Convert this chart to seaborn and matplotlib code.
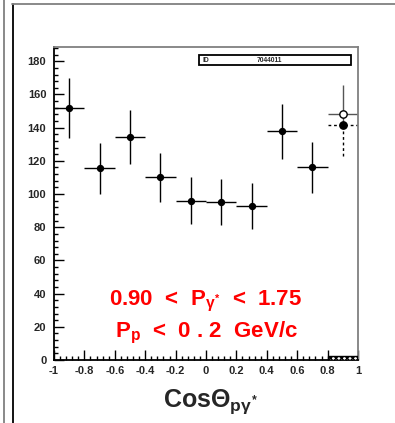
import numpy as np
import matplotlib
matplotlib.use("Agg")
import matplotlib.pyplot as plt
from matplotlib.lines import Line2D
from matplotlib.patches import Rectangle
from matplotlib.ticker import MultipleLocator
import seaborn as sns
import pandas as pd

# ---- data ----
bin_centers = [-0.9, -0.7, -0.5, -0.3, -0.1, 0.1, 0.3, 0.5, 0.7]
counts = [151.8, 115.6, 134.2, 110.0, 96.1, 95.2, 92.9, 137.8, 116.1]
errors = [18.0, 15.4, 16.4, 14.8, 14.1, 14.0, 13.9, 16.5, 15.5]
last_center = [0.9]
last_open = [148.1]
last_open_up = [17.4]
last_filled = [141.3]
last_filled_down = [18.6]
hatch_center = [0.9]
hatch_height = [2.6]
xticks = [-1, -0.8, -0.6, -0.4, -0.2, 0, 0.2, 0.4, 0.6, 0.8, 1]
xtick_labels = ["-1", "-0.8", "-0.6", "-0.4", "-0.2", "0", "0.2", "0.4", "0.6", "0.8", "1"]
yticks = [0, 20, 40, 60, 80, 100, 120, 140, 160, 180]

sns.set_theme(style="ticks")
plt.rcParams["font.family"] = ["Liberation Sans", "DejaVu Sans"]
plt.rcParams["font.weight"] = "bold"
plt.rcParams["mathtext.fontset"] = "custom"
plt.rcParams["mathtext.rm"] = "Liberation Sans:bold"
plt.rcParams["mathtext.it"] = "Liberation Sans:bold"
plt.rcParams["mathtext.bf"] = "Liberation Sans:bold"

W, H = 395, 423
fig = plt.figure(figsize=(W / 100, H / 100), dpi=100)
ax = fig.add_axes([54 / W, 1 - 360 / H, (358 - 54) / W, (360 - 47) / H])

# frame decorations
fig.add_artist(Line2D([3.5 / W, 3.5 / W], [0, 1], color="#808080", lw=1.3))
fig.add_artist(Line2D([12.5 / W, 12.5 / W], [0, 1 - 4 / H], color="black", lw=1.3))
fig.add_artist(Line2D([12 / W, 1], [1 - 4.5 / H, 1 - 4.5 / H], color="#808080", lw=1.3))

df = pd.DataFrame({"x": bin_centers, "y": counts, "err": errors})
ax.errorbar(df["x"], df["y"], xerr=0.1, yerr=df["err"], fmt="none",
            ecolor="black", elinewidth=1.0, capsize=0)
sns.scatterplot(data=df, x="x", y="y", ax=ax, color="black", s=28,
                edgecolor="black", linewidth=0, zorder=5, legend=False)

# last bin: two overlapping entries
eb = ax.errorbar(last_center, last_filled, xerr=0.1,
                 yerr=[last_filled_down, [0]], fmt="none",
                 ecolor="black", elinewidth=1.0, capsize=0)
for lc in eb[2]:
    lc.set_linestyle((0, (2, 2)))
ax.errorbar(last_center, last_open, xerr=0.1,
            yerr=[[last_open[0] - last_filled[0]], last_open_up], fmt="none",
            ecolor="#555555", elinewidth=1.0, capsize=0)
ax.scatter(last_center, last_filled, s=28, color="black", zorder=6)
ax.scatter(last_center, last_open, s=28, facecolor="white", edgecolor="black",
           linewidth=1.0, zorder=6)

ax.bar(hatch_center, hatch_height, width=0.2, facecolor="white",
       edgecolor="black", hatch="xxxxxx", linewidth=1.0, zorder=3)

ax.set_xlim(-1, 1)
ax.set_ylim(0, 188.6)
ax.set_xticks(xticks)
ax.set_xticklabels(xtick_labels)
ax.set_yticks(yticks)
ax.xaxis.set_minor_locator(MultipleLocator(0.04))
ax.yaxis.set_minor_locator(MultipleLocator(4))
ax.tick_params(axis="both", which="major", direction="in", length=7, width=1.0,
               labelsize=8, color="black")
ax.tick_params(axis="both", which="minor", direction="in", length=3, width=1.0,
               color="black")
ax.tick_params(axis="x", which="major", pad=4)
ax.tick_params(axis="y", which="major", pad=5.5)
ax.tick_params(top=False, right=False, which="both")
for lab in ax.get_xticklabels() + ax.get_yticklabels():
    lab.set_fontweight("bold")
ax.set_xlabel("")
ax.set_ylabel("")

for side in ["left", "bottom"]:
    ax.spines[side].set_color("black")
    ax.spines[side].set_linewidth(1.3)
for side in ["top", "right"]:
    ax.spines[side].set_color("#808080")
    ax.spines[side].set_linewidth(1.3)

# stats box
ax.add_patch(Rectangle((0.477, 0.9425), 0.5, 0.0315, transform=ax.transAxes,
                       facecolor="white", edgecolor="black", lw=1.3, zorder=7))
ax.text(0.49, 0.958, "ID", transform=ax.transAxes, fontsize=4.8,
        fontweight="bold", va="center", ha="left", zorder=8)
ax.text(0.71, 0.958, "7044011", transform=ax.transAxes, fontsize=4.8,
        fontweight="bold", va="center", ha="center", zorder=8)

# red annotation
ax.text(0.0, 33.0, r"0.90  <  P$_{\gamma^{*}}$  <  1.75", color="red",
        fontsize=16, fontweight="bold", ha="center", va="baseline")
ax.text(0.0, 13.8, r"P$_{\mathrm{p}}$  <  0 . 2  GeV/c", color="red",
        fontsize=16, fontweight="bold", ha="center", va="baseline")

# x label
fig.text(210 / W, 1 - 406.5 / H, r"Cos$\Theta_{\mathrm{p}\gamma^{*}}$",
         fontsize=18, fontweight="bold", ha="center", va="baseline")

fig.savefig("out.png", dpi=100)
